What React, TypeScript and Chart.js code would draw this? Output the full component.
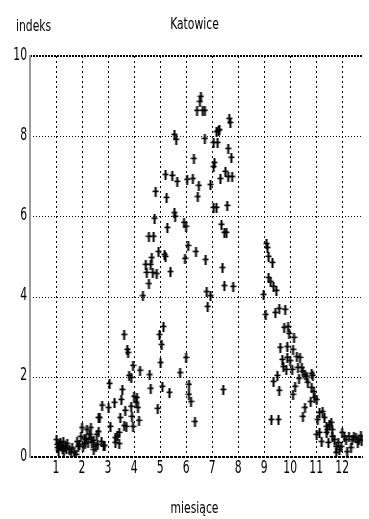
import React, { useEffect, useRef } from "react";
import { Chart, registerables } from "chart.js";

Chart.register(...registerables);

// [miesiąc, indeks]
const zima: [number, number][] = [
  [1.02, 0.42], [1.05, 0.3], [1.06, 0.22], [1.1, 0.15], [1.13, 0.3], [1.17, 0.35], [1.2, 0.28],
  [1.25, 0.2], [1.28, 0.37], [1.3, 0.15], [1.36, 0.25], [1.4, 0.2], [1.43, 0.32], [1.51, 0.17],
  [1.58, 0.1], [1.62, 0.22], [1.7, 0.1], [1.77, 0.05], [1.81, 0.37], [1.85, 0.25], [1.9, 0.3],
  [1.96, 0.5], [2.0, 0.72], [2.04, 0.25], [2.1, 0.45], [2.11, 0.32], [2.15, 0.42], [2.19, 0.67],
  [2.23, 0.35], [2.28, 0.55], [2.34, 0.47], [2.34, 0.72], [2.38, 0.35], [2.45, 0.17], [2.45, 0.4],
  [2.53, 0.25], [2.57, 0.55], [2.6, 0.3], [2.64, 0.62], [2.64, 0.97], [2.68, 0.97], [2.75, 0.37],
  [2.77, 1.28], [2.83, 0.27], [2.87, 0.27],
];

const wiosna: [number, number][] = [
  [3.02, 1.22], [3.06, 1.82], [3.09, 0.75], [3.25, 1.35], [3.28, 0.35], [3.28, 0.47], [3.36, 0.52],
  [3.43, 0.32], [3.43, 0.6], [3.47, 0.97], [3.51, 1.42], [3.55, 1.67], [3.62, 0.77], [3.62, 3.04],
  [3.66, 1.15], [3.7, 0.75], [3.74, 2.67], [3.77, 2.59], [3.81, 2.02], [3.89, 1.97], [3.89, 1.25],
  [3.92, 1.0], [3.96, 2.27], [3.96, 0.75], [4.0, 1.5], [4.08, 1.35], [4.11, 1.47], [4.15, 1.22],
  [4.19, 0.9], [4.23, 2.15], [4.34, 4.01], [4.45, 4.79], [4.49, 4.59], [4.57, 4.31], [4.57, 5.49],
  [4.6, 2.04], [4.64, 4.79], [4.64, 1.7], [4.68, 4.96], [4.72, 4.59], [4.75, 5.49], [4.79, 5.94],
  [4.83, 6.61], [4.87, 4.56], [4.91, 1.2], [4.94, 5.11], [4.98, 3.04], [5.02, 2.34], [5.06, 2.79],
  [5.09, 1.75], [5.13, 3.24], [5.17, 5.04], [5.21, 4.99], [5.21, 7.03], [5.25, 6.46], [5.28, 5.71],
  [5.36, 1.6], [5.4, 4.61], [5.47, 7.01], [5.55, 6.08], [5.55, 8.03], [5.58, 5.99], [5.62, 7.91],
  [5.66, 6.86], [5.77, 2.09],
];

const lato: [number, number][] = [
  [5.92, 5.84], [5.96, 4.94], [6.0, 5.74], [6.0, 2.47], [6.04, 6.91], [6.08, 5.26], [6.11, 1.8],
  [6.11, 1.55], [6.19, 1.37], [6.26, 6.93], [6.3, 7.43], [6.34, 0.87], [6.38, 5.11], [6.42, 8.63],
  [6.45, 6.48], [6.49, 6.76], [6.53, 8.85], [6.57, 8.98], [6.64, 8.63], [6.72, 8.63], [6.72, 7.93],
  [6.75, 4.91], [6.79, 4.11], [6.83, 3.74], [6.94, 4.01], [6.94, 6.78], [7.06, 7.83], [7.06, 7.23],
  [7.06, 6.21], [7.09, 7.33], [7.17, 8.1], [7.17, 6.21], [7.21, 7.83], [7.25, 8.13], [7.28, 8.15],
  [7.32, 6.93], [7.36, 5.79], [7.4, 4.71], [7.43, 1.67], [7.47, 5.59], [7.47, 4.26], [7.51, 7.11],
  [7.55, 5.59], [7.58, 6.26], [7.62, 7.68], [7.62, 6.98], [7.66, 8.43], [7.7, 8.33], [7.74, 7.46],
  [7.77, 6.98], [7.81, 4.24],
];

const jesien: [number, number][] = [
  [8.98, 4.04], [9.06, 3.54], [9.09, 5.31], [9.13, 5.21], [9.17, 4.99], [9.17, 4.46], [9.25, 4.36],
  [9.28, 0.92], [9.32, 4.84], [9.36, 4.24], [9.36, 1.87], [9.43, 3.59], [9.47, 4.14], [9.51, 2.02],
  [9.55, 0.92], [9.58, 1.65], [9.58, 3.69], [9.62, 2.72], [9.7, 2.42], [9.74, 2.24], [9.77, 3.22],
  [9.81, 3.67], [9.85, 2.17], [9.89, 2.74], [9.89, 2.47], [9.92, 3.24], [9.96, 3.07], [10.0, 2.39],
  [10.08, 2.17], [10.11, 2.67], [10.11, 1.55], [10.15, 2.97], [10.19, 1.75], [10.26, 2.49],
  [10.3, 2.22], [10.34, 1.95], [10.38, 2.47], [10.45, 2.22], [10.49, 2.12], [10.49, 1.0],
  [10.57, 2.04], [10.57, 1.22], [10.64, 2.0], [10.68, 1.85], [10.79, 1.37], [10.83, 2.07],
  [10.83, 1.72], [10.87, 2.02], [10.91, 1.62], [10.94, 1.47], [11.02, 1.42],
];

const grudzien: [number, number][] = [
  [11.02, 0.55], [11.06, 0.92], [11.13, 1.1], [11.13, 0.6], [11.21, 0.37], [11.25, 1.12],
  [11.32, 0.97], [11.4, 0.75], [11.4, 0.6], [11.43, 0.67], [11.47, 0.35], [11.51, 0.8],
  [11.58, 0.85], [11.62, 0.67], [11.62, 0.5], [11.7, 0.42], [11.77, 0.25], [11.77, 0.1],
  [11.85, 0.35], [11.89, 0.17], [11.96, 0.25], [12.0, 0.6], [12.08, 0.5], [12.15, 0.42],
  [12.19, 0.12], [12.26, 0.5], [12.34, 0.22], [12.38, 0.42], [12.45, 0.5], [12.53, 0.47],
  [12.6, 0.35], [12.64, 0.42], [12.72, 0.52], [12.75, 0.4],
];

const monthTicks = [1, 2, 3, 4, 5, 6, 7, 8, 9, 10, 11, 12];
const indexTicks = [0, 2, 4, 6, 8, 10];

const FONT = "'Liberation Sans Narrow', 'Arial Narrow', 'DejaVu Sans Condensed', sans-serif";

function makeMarker(): HTMLCanvasElement {
  const c = document.createElement("canvas");
  c.width = 7;
  c.height = 10;
  const g = c.getContext("2d")!;
  g.fillStyle = "#000";
  g.fillRect(2.5, 0, 2, 10);
  g.fillRect(0.5, 3.6, 6, 1.6);
  return c;
}

function stretchedText(ctx: CanvasRenderingContext2D, t: string, x: number, y: number, sy: number) {
  ctx.save();
  ctx.translate(x, y);
  ctx.scale(1, sy);
  ctx.fillText(t, 0, 0);
  ctx.restore();
}

const framePlugin = {
  id: "frame",
  beforeDatasetsDraw(chart: any) {
    const { ctx, chartArea } = chart;
    const xs = chart.scales.x;
    const ys = chart.scales.y;
    const { left, right, top, bottom } = chartArea;
    ctx.save();
    ctx.strokeStyle = "#000";
    ctx.lineWidth = 1;
    ctx.setLineDash([2, 3]);
    monthTicks.forEach((m) => {
      const x = Math.round(xs.getPixelForValue(m)) + 0.5;
      ctx.beginPath();
      ctx.moveTo(x, top);
      ctx.lineTo(x, bottom);
      ctx.stroke();
    });
    ctx.setLineDash([1, 2]);
    indexTicks.filter((v) => v > 0 && v < 10).forEach((v) => {
      const y = Math.round(ys.getPixelForValue(v)) + 0.5;
      ctx.beginPath();
      ctx.moveTo(left, y);
      ctx.lineTo(right, y);
      ctx.stroke();
    });
    ctx.setLineDash([2, 1]);
    ctx.lineWidth = 2;
    ctx.beginPath();
    ctx.moveTo(left, top);
    ctx.lineTo(right, top);
    ctx.stroke();
    ctx.setLineDash([3, 1]);
    ctx.beginPath();
    ctx.moveTo(left, bottom);
    ctx.lineTo(right, bottom);
    ctx.stroke();
    ctx.setLineDash([]);
    ctx.strokeStyle = "#9a9a9a";
    ctx.beginPath();
    ctx.moveTo(left, top - 1);
    ctx.lineTo(left, bottom + 1);
    ctx.stroke();
    ctx.restore();
  },
  afterDraw(chart: any) {
    const { ctx, chartArea } = chart;
    const xs = chart.scales.x;
    const ys = chart.scales.y;
    ctx.save();
    ctx.fillStyle = "#000";
    ctx.font = `12px ${FONT}`;
    ctx.textBaseline = "middle";
    ctx.textAlign = "right";
    indexTicks.forEach((v) => {
      stretchedText(ctx, String(v), chartArea.left - 3, ys.getPixelForValue(v) - 1, 1.5);
    });
    ctx.textAlign = "center";
    monthTicks.forEach((m) => {
      stretchedText(ctx, String(m), xs.getPixelForValue(m), 468.5, 1.5);
    });
    ctx.textBaseline = "alphabetic";
    ctx.textAlign = "center";
    const cx = (chartArea.left + chartArea.right) / 2 - 2;
    stretchedText(ctx, "Katowice", cx, 29, 1.3);
    stretchedText(ctx, "miesiące", cx, 513, 1.3);
    ctx.textAlign = "left";
    stretchedText(ctx, "indeks", 16, 30.5, 1.3);
    ctx.restore();
  },
};

export default function App() {
  const ref = useRef<HTMLCanvasElement | null>(null);
  useEffect(() => {
    document.body.style.margin = "0";
    const marker = makeMarker();
    const all = [...zima, ...wiosna, ...lato, ...jesien, ...grudzien];
    const chart = new Chart(ref.current!, {
      type: "scatter",
      data: {
        datasets: [
          {
            data: all.map(([x, y]) => ({ x, y })),
            pointStyle: marker as any,
            pointRadius: 5,
            pointHoverRadius: 5,
          },
        ],
      },
      options: {
        responsive: false,
        animation: false,
        devicePixelRatio: 1,
        layout: { padding: { top: 56, right: 0, left: 0, bottom: 0 } },
        plugins: { legend: { display: false }, tooltip: { enabled: false }, title: { display: false } },
        scales: {
          x: {
            type: "linear",
            min: 0,
            max: 12.8,
            afterBuildTicks: (s: any) => {
              s.ticks = monthTicks.map((v) => ({ value: v }));
            },
            afterFit: (s: any) => {
              s.height = 62;
            },
            grid: { display: false, drawTicks: false },
            border: { display: false },
            ticks: { display: false },
          },
          y: {
            type: "linear",
            min: 0,
            max: 10,
            afterBuildTicks: (s: any) => {
              s.ticks = indexTicks.map((v) => ({ value: v }));
            },
            afterFit: (s: any) => {
              s.width = 30;
            },
            grid: { display: false, drawTicks: false },
            border: { display: false },
            ticks: { display: false },
          },
        },
      },
      plugins: [framePlugin],
    });
    return () => chart.destroy();
  }, []);
  return (
    <div style={{ width: 369, height: 519 }}>
      <canvas ref={ref} width={369} height={519} />
    </div>
  );
}
